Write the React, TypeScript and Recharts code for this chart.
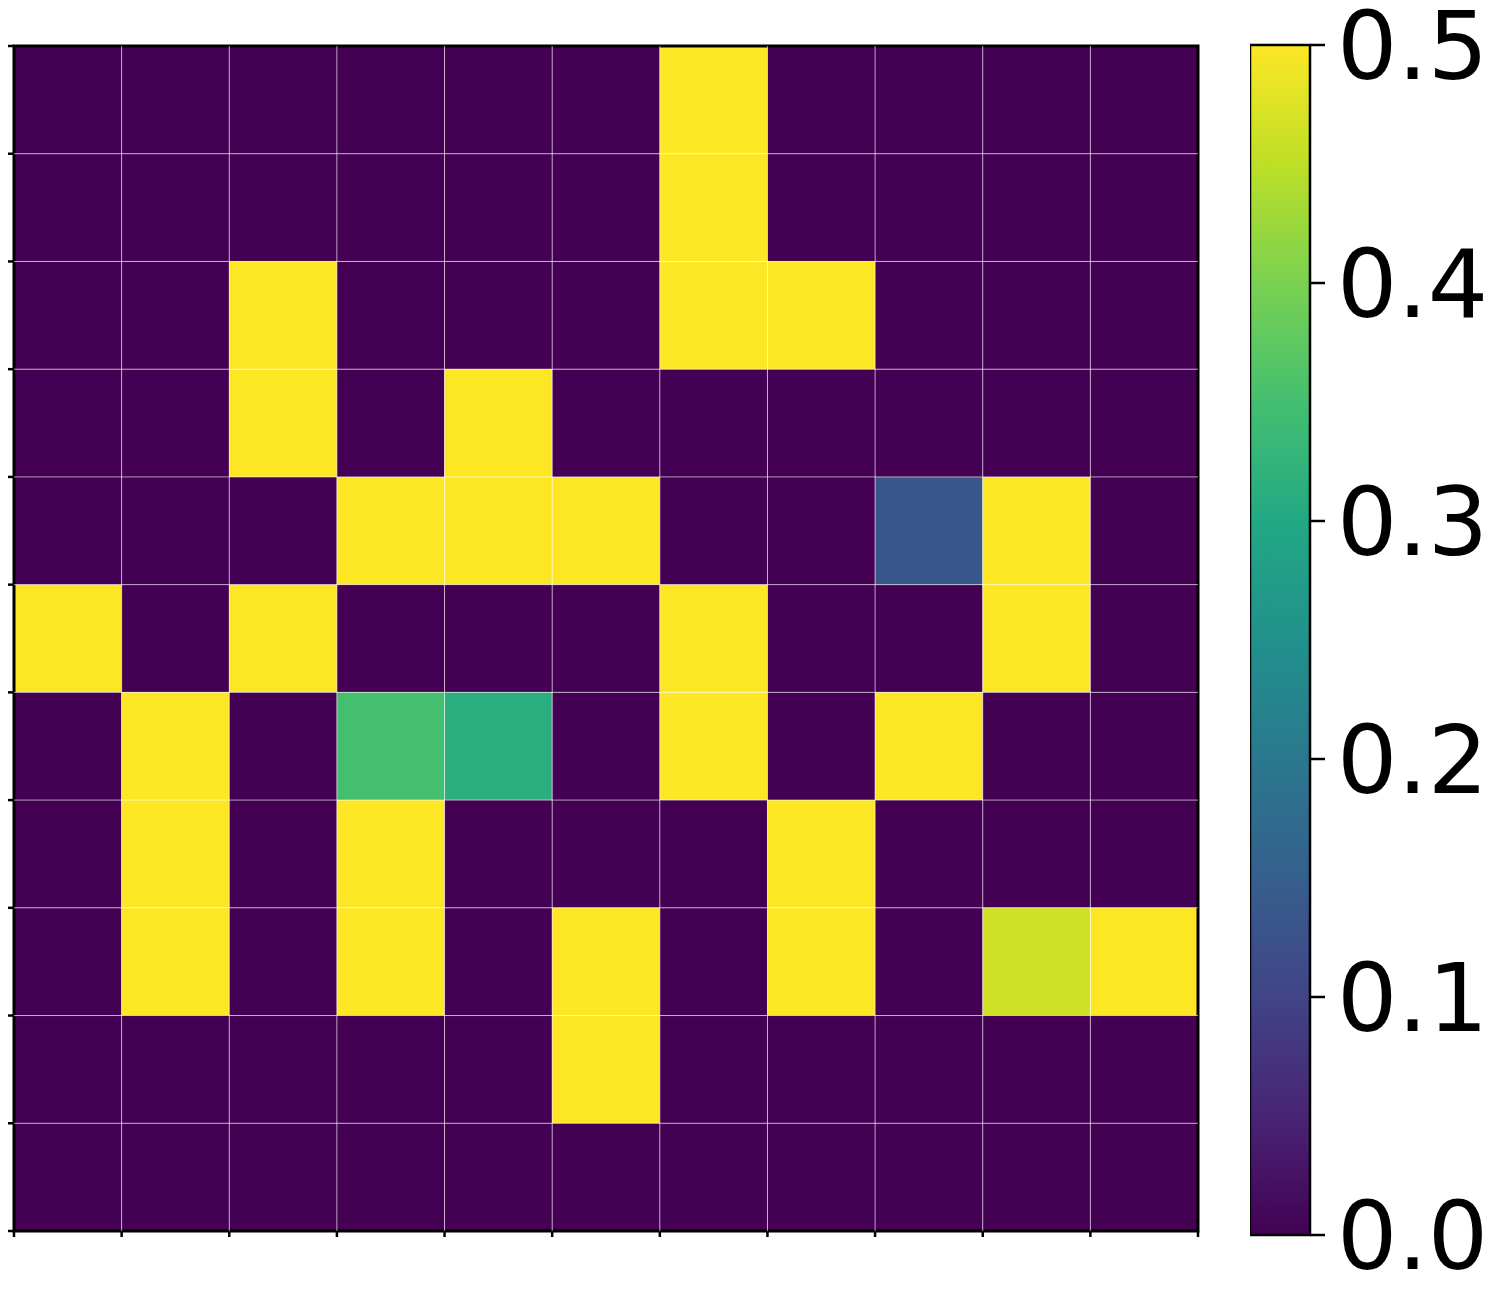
import React from "react";
import {
  ComposedChart,
  BarChart,
  Bar,
  XAxis,
  YAxis,
  Scatter,
  ReferenceArea,
  ReferenceLine,
} from "recharts";

// Heatmap values, rows from top (0) to bottom (10), columns left (0) to right (10)
const row0 = [0, 0, 0, 0, 0, 0, 0.5, 0, 0, 0, 0];
const row1 = [0, 0, 0, 0, 0, 0, 0.5, 0, 0, 0, 0];
const row2 = [0, 0, 0.5, 0, 0, 0, 0.5, 0.5, 0, 0, 0];
const row3 = [0, 0, 0.5, 0, 0.5, 0, 0, 0, 0, 0, 0];
const row4 = [0, 0, 0, 0.5, 0.5, 0.5, 0, 0, 0.133, 0.5, 0];
const row5 = [0.5, 0, 0.5, 0, 0, 0, 0.5, 0, 0, 0.5, 0];
const row6 = [0, 0.5, 0, 0.35, 0.313, 0, 0.5, 0, 0.5, 0, 0];
const row7 = [0, 0.5, 0, 0.5, 0, 0, 0, 0.5, 0, 0, 0];
const row8 = [0, 0.5, 0, 0.5, 0, 0.5, 0, 0.5, 0, 0.463, 0.5];
const row9 = [0, 0, 0, 0, 0, 0.5, 0, 0, 0, 0, 0];
const row10 = [0, 0, 0, 0, 0, 0, 0, 0, 0, 0, 0];
const rows = [row0, row1, row2, row3, row4, row5, row6, row7, row8, row9, row10];

const gridTicks = [0, 1, 2, 3, 4, 5, 6, 7, 8, 9, 10, 11];
const innerLines = [1, 2, 3, 4, 5, 6, 7, 8, 9, 10];
const colorbarTicks = [0, 0.1, 0.2, 0.3, 0.4, 0.5];
const vmin = 0;
const vmax = 0.5;

// matplotlib viridis colormap samples at 0, 0.1, ..., 1.0
const viridis = [
  "#440154", "#482475", "#414487", "#355f8d", "#2a788e", "#21918c",
  "#22a884", "#44bf70", "#7ad151", "#bddf26", "#fde725",
];

function hexToRgb(h: string) {
  return [parseInt(h.slice(1, 3), 16), parseInt(h.slice(3, 5), 16), parseInt(h.slice(5, 7), 16)];
}
function cmap(v: number) {
  let t = (v - vmin) / (vmax - vmin);
  t = Math.max(0, Math.min(1, t));
  const p = t * (viridis.length - 1);
  const i = Math.min(viridis.length - 2, Math.floor(p));
  const f = p - i;
  const a = hexToRgb(viridis[i]);
  const b = hexToRgb(viridis[i + 1]);
  const c = a.map((x, k) => Math.round(x + (b[k] - x) * f));
  return `rgb(${c[0]},${c[1]},${c[2]})`;
}

const cells = rows.flatMap((r, ri) => r.map((v, ci) => ({ x: ci + 0.5, y: ri + 0.5, col: ci, row: ri, v })));
const colorbarData = [{ name: "cb", v: vmax }];

const FONT = "DejaVu Sans, sans-serif";
const EmptyTick = () => <g />;

export default function App() {
  return (
    <div style={{ position: "relative", width: 1495, height: 1284, background: "#fff" }}>
      <div style={{ position: "absolute", left: 0, top: 0 }}>
        <ComposedChart
          width={1192}
          height={1233}
          margin={{ top: 38, right: 2, bottom: 0, left: 0 }}
          data={cells}
        >
          <XAxis
            dataKey="x"
            type="number"
            domain={[0, 11]}
            ticks={gridTicks}
            interval={0}
            allowDataOverflow
            tick={EmptyTick}
            axisLine={false}
            tickLine={{ stroke: "#000", strokeWidth: 2.5 }}
            tickSize={6}
            height={10}
          />
          <YAxis
            dataKey="y"
            type="number"
            domain={[0, 11]}
            ticks={gridTicks}
            interval={0}
            reversed
            allowDataOverflow
            tick={EmptyTick}
            axisLine={false}
            tickLine={{ stroke: "#000", strokeWidth: 2.5 }}
            tickSize={6}
            width={6}
          />
          {cells.map((c) => (
            <ReferenceArea
              key={`c-${c.row}-${c.col}`}
              x1={c.col}
              x2={c.col + 1}
              y1={c.row}
              y2={c.row + 1}
              fill={cmap(c.v)}
              fillOpacity={1}
              stroke="none"
              ifOverflow="visible"
            />
          ))}
          {innerLines.map((t) => (
            <ReferenceLine key={`vx-${t}`} x={t} stroke="#ffffff" strokeOpacity={0.6} strokeWidth={1} />
          ))}
          {innerLines.map((t) => (
            <ReferenceLine key={`hy-${t}`} y={t} stroke="#ffffff" strokeOpacity={0.6} strokeWidth={1} />
          ))}
          <ReferenceArea
            x1={0}
            x2={11}
            y1={0}
            y2={11}
            fill="none"
            fillOpacity={0}
            stroke="#000"
            strokeWidth={3}
            ifOverflow="visible"
          />
          <Scatter dataKey="y" isAnimationActive={false} shape={() => null} legendType="none" />
        </ComposedChart>
      </div>
      <div style={{ position: "absolute", left: 1242, top: -8 }}>
        <BarChart
          width={253}
          height={1292}
          margin={{ top: 45, right: 0, bottom: 57, left: 0 }}
          data={colorbarData}
          barCategoryGap={0}
        >
          <defs>
            <linearGradient id="viridisGrad" x1="0" y1="1" x2="0" y2="0">
              {viridis.map((c, i) => (
                <stop key={i} offset={`${(i / (viridis.length - 1)) * 100}%`} stopColor={c} />
              ))}
            </linearGradient>
          </defs>
          <XAxis dataKey="name" hide />
          <YAxis
            orientation="right"
            type="number"
            domain={[vmin, vmax]}
            ticks={colorbarTicks}
            interval={0}
            tickFormatter={(v: number) => v.toFixed(1)}
            axisLine={false}
            tickLine={{ stroke: "#000", strokeWidth: 2.5 }}
            tickSize={15}
            tickMargin={12}
            width={193}
            tick={{ fill: "#000", fontSize: 95, fontFamily: FONT }}
          />
          <Bar dataKey="v" fill="url(#viridisGrad)" stroke="#000" strokeWidth={2.5} isAnimationActive={false} />
        </BarChart>
      </div>
    </div>
  );
}
